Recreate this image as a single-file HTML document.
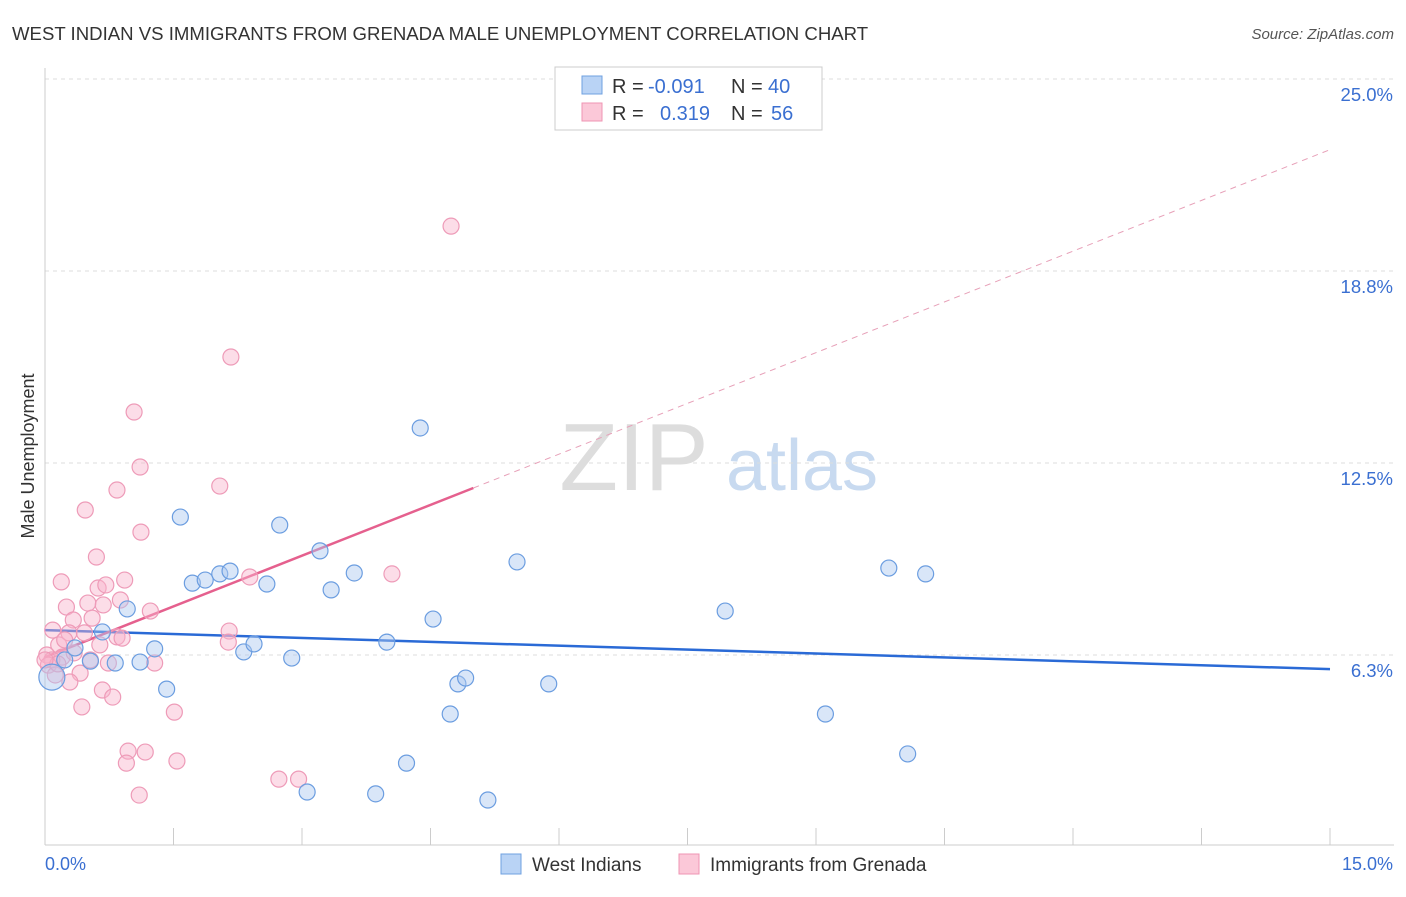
<!DOCTYPE html>
<html><head><meta charset="utf-8"><style>
body{margin:0;background:#fff;font-family:"Liberation Sans",sans-serif}
svg text{font-family:"Liberation Sans",sans-serif}
</style></head><body>
<svg width="1406" height="892" xmlns="http://www.w3.org/2000/svg">
<text x="12" y="40" font-size="18.6" fill="#333">WEST INDIAN VS IMMIGRANTS FROM GRENADA MALE UNEMPLOYMENT CORRELATION CHART</text>
<text x="1394" y="39" font-size="15" fill="#555" text-anchor="end" font-style="italic">Source: ZipAtlas.com</text>
<g>
<text x="634" y="490" font-size="96" fill="#ddd" text-anchor="middle" font-family="Liberation Serif">ZIP</text>
<text x="802" y="490" font-size="72" fill="#c8daf0" text-anchor="middle">atlas</text>
</g>
<g id="grid"></g>
<g id="axes"></g>
<g id="trend"></g>
<g id="pts"></g>
<text transform="translate(34,456) rotate(-90)" font-size="18" fill="#333" text-anchor="middle">Male Unemployment</text>
<g>
<rect x="555" y="67" width="267" height="63" fill="#fff" stroke="#ccc"/>
<rect x="582" y="76" width="20" height="18" fill="#b9d3f5" stroke="#6fa0e0"/>
<rect x="582" y="103" width="20" height="18" fill="#fbc8d8" stroke="#ef95b3"/>
<g font-size="20" fill="#333">
<text x="612" y="93">R =</text><text x="648" y="93" fill="#3a6fd1">-0.091</text>
<text x="731" y="93">N =</text><text x="768" y="93" fill="#3a6fd1">40</text>
<text x="612" y="120">R =</text><text x="660" y="120" fill="#3a6fd1">0.319</text>
<text x="731" y="120">N =</text><text x="771" y="120" fill="#3a6fd1">56</text>
</g>
</g>
<g>
<rect x="501" y="854" width="20" height="20" fill="#b9d3f5" stroke="#6fa0e0"/>
<text x="532" y="871" font-size="19" fill="#333">West Indians</text>
<rect x="679" y="854" width="20" height="20" fill="#fbc8d8" stroke="#ef95b3"/>
<text x="710" y="871" font-size="19" fill="#333">Immigrants from Grenada</text>
</g>
</svg>
<script>
const xTicks=[0,1.5,3,4.5,6,7.5,9,10.5,12,13.5,15];
const yTicks=[6.25,12.5,18.75,25];
const yTickLabels=["6.3%","12.5%","18.8%","25.0%"];
const blueX=[0.08,0.23,0.35,0.53,0.67,0.82,0.96,1.11,1.28,1.42,1.58,1.72,1.87,2.04,2.16,2.32,2.44,2.59,2.74,2.88,3.06,3.21,3.34,3.61,3.86,3.99,4.22,4.38,4.53,4.73,4.82,4.91,5.17,5.51,5.88,7.94,9.11,9.85,10.07,10.28];
const blueY=[5.53,6.09,6.48,6.05,7.0,5.99,7.75,6.02,6.45,5.14,10.74,8.59,8.69,8.89,8.98,6.35,6.61,8.56,10.48,6.15,1.79,9.64,8.37,8.92,1.73,6.67,2.73,13.64,7.42,4.33,5.31,5.50,1.53,9.28,5.31,7.68,4.33,9.08,3.03,8.89];
const pinkX=[4.74,2.17,1.04,1.11,2.04,0.84,0.47,1.12,0.60,0.19,0.62,0.93,0.71,2.39,4.05,0.25,0.50,0.68,0.88,1.23,0.33,0.55,0.09,0.28,0.46,2.15,0.84,0.90,0.64,2.14,0.16,0.02,0.20,0.34,0.08,0.04,0.74,1.28,0.41,0.12,0.29,0.67,0.79,0.43,1.51,0.97,1.17,0.95,1.54,2.73,2.96,1.10,0.15,0.23,0.53,0.0];
const pinkY=[20.21,15.95,14.16,12.37,11.75,11.62,10.97,10.25,9.44,8.63,8.43,8.69,8.53,8.79,8.89,7.81,7.94,7.88,8.04,7.68,7.39,7.45,7.06,6.97,6.97,7.03,6.84,6.80,6.58,6.67,6.58,6.25,6.18,6.32,6.09,5.92,5.99,5.99,5.66,5.60,5.37,5.11,4.88,4.56,4.39,3.12,3.09,2.73,2.80,2.21,2.21,1.69,5.96,6.74,6.09,6.09];
const blueTrend=[7.06,5.79];
const pinkTrend=[6.18,22.7];
const pinkSolidEnd=5.0;
const X=v=>45+v/15*1285, Y=v=>655-(v-6.25)*30.72;
const NS="http://www.w3.org/2000/svg";
function mk(p,t,a){const e=document.createElementNS(NS,t);for(const k in a)e.setAttribute(k,a[k]);document.getElementById(p).appendChild(e);return e;}
yTicks.forEach((v,i)=>{
 const l=mk('grid','line',{x1:45,x2:1394,y1:Y(v),y2:Y(v),stroke:'#ddd','stroke-dasharray':'4,4'});
 
 
 const t=mk('grid','text',{x:1393,y:Y(v)+22,'font-size':18.5,fill:'#3a6fd1','text-anchor':'end'});
 t.textContent=yTickLabels[i];
 
 
});
mk('axes','line',{x1:45,x2:45,y1:68,y2:845,stroke:'#ccc'});
mk('axes','line',{x1:45,x2:1394,y1:845,y2:845,stroke:'#ccc'});
xTicks.forEach(v=>{const t=mk('axes','line',{x1:X(v),x2:X(v),y1:828,y2:845,stroke:'#ccc'});
 
 });
const x0=mk('axes','text',{x:45,y:870,'font-size':18,fill:'#3a6fd1'});x0.textContent='0.0%';


const x1=mk('axes','text',{x:1393,y:870,'font-size':18,fill:'#3a6fd1','text-anchor':'end'});x1.textContent='15.0%';


const pf=x=>pinkTrend[0]+(pinkTrend[1]-pinkTrend[0])*x/15;
const bt=mk('trend','line',{x1:X(0),y1:Y(blueTrend[0]),x2:X(15),y2:Y(blueTrend[1]),stroke:'#2a6ad6','stroke-width':2.5});


const pd=mk('trend','line',{x1:X(pinkSolidEnd),y1:Y(pf(pinkSolidEnd)),x2:X(15),y2:Y(pf(15)),stroke:'#e7a0b8','stroke-width':1,'stroke-dasharray':'6,5'});


const ps=mk('trend','line',{x1:X(0),y1:Y(pf(0)),x2:X(pinkSolidEnd),y2:Y(pf(pinkSolidEnd)),stroke:'#e5608e','stroke-width':2.5});


pinkX.forEach((x,i)=>{const c=mk('pts','circle',{cx:X(x),cy:Y(pinkY[i]),r:8,fill:'rgba(248,180,204,0.45)',stroke:'#ee9bb8','stroke-width':1.2});
 
 });
blueX.forEach((x,i)=>{const c=mk('pts','circle',{cx:X(x),cy:Y(blueY[i]),r:i==0?13:8,fill:'rgba(170,200,240,0.45)',stroke:'#6b9de0','stroke-width':1.2});
 
 });
</script>
</body></html>
